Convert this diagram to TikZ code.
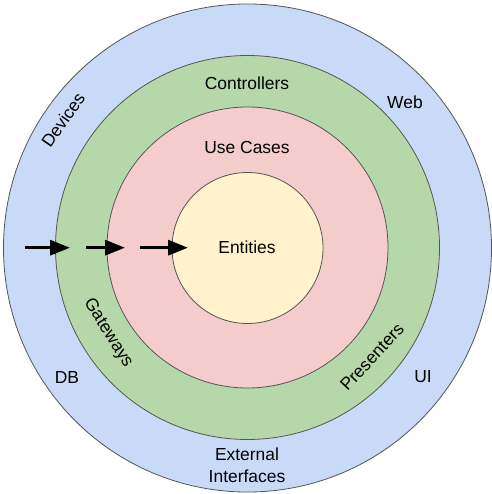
\documentclass[tikz,border=0pt]{standalone}
\usepackage{fontspec}
\setmainfont{Liberation Sans}
\usetikzlibrary{arrows.meta}
\definecolor{ringblue}{HTML}{C9DAF8}
\definecolor{ringgreen}{HTML}{B6D7A8}
\definecolor{ringpink}{HTML}{F4CCCC}
\definecolor{ringyellow}{HTML}{FFF2CC}
\definecolor{ringedge}{HTML}{555555}
\tikzset{
  ring/.style={circle, draw=ringedge, line width=0.8bp, inner sep=0pt},
  lbl/.style={font=\fontsize{17.5}{22}\selectfont, text=black, inner sep=0pt, align=center},
  flow/.style={line width=3.3bp, -{Triangle[length=20bp, width=15bp]}}
}
\begin{document}
\begin{tikzpicture}[x=1bp, y=-1bp]
  \useasboundingbox (0,0) rectangle (492,494);
  % concentric layers
  \node[ring, fill=ringblue,   minimum size=488bp] (outer)    at (247.5,248) {};
  \node[ring, fill=ringgreen,  minimum size=384bp] (adapters) at (247.5,247.5) {};
  \node[ring, fill=ringpink,   minimum size=281bp] (usecases) at (247.5,247.5) {};
  \node[ring, fill=ringyellow, minimum size=151bp] (entities) at (247.5,248) {};

  % layer labels
  \node[lbl] (tEnt)   at (247,247) {Entities};
  \node[lbl] (tUse)   at (247,147) {Use Cases};
  \node[lbl] (tCtrl)  at (247,83)  {Controllers};
  \node[lbl, rotate=-58] (tGate) at (108,333) {Gateways};
  \node[lbl, rotate=47]  (tPres) at (372,357) {Presenters};
  \node[lbl, rotate=55]  (tDev)  at (63,120)  {Devices};
  \node[lbl] (tWeb)  at (405,102) {Web};
  \node[lbl] (tDB)   at (67,377)  {DB};
  \node[lbl] (tUI)   at (423,377) {UI};
  \node[lbl] (tExt)  at (247,465) {External\\Interfaces};

  % dependency arrows pointing inward
  \coordinate (a1s) at (25,247.7);  \coordinate (a1e) at (70,247.7);
  \coordinate (a2s) at (86,247.7);  \coordinate (a2e) at (125,247.7);
  \coordinate (a3s) at (140,247.7); \coordinate (a3e) at (188,247.7);
  \draw[flow] (a1s) -- (a1e);
  \draw[flow] (a2s) -- (a2e);
  \draw[flow] (a3s) -- (a3e);
\end{tikzpicture}
\end{document}
